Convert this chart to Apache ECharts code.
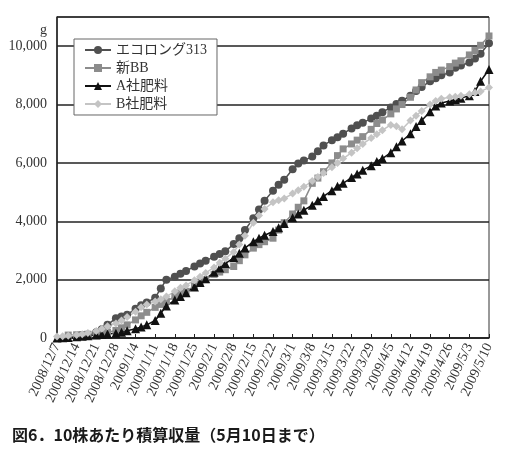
<!DOCTYPE html>
<html>
<head>
<meta charset="utf-8">
<script src="https://cdn.jsdelivr.net/npm/echarts@6/dist/echarts.min.js"></script>
<style>
  html, body { margin: 0; padding: 0; background: #fff; }
  #chart { width: 505px; height: 449px; }
</style>
</head>
<body>
<div id="chart"></div>
<script>
// week tick labels (every 7 days from 2008/12/7)
var tickLabels = ['2008/12/7', '2008/12/14', '2008/12/21', '2008/12/28', '2009/1/4', '2009/1/11',
  '2009/1/18', '2009/1/25', '2009/2/1', '2009/2/8', '2009/2/15', '2009/2/22', '2009/3/1',
  '2009/3/8', '2009/3/15', '2009/3/22', '2009/3/29', '2009/4/5', '2009/4/12', '2009/4/19',
  '2009/4/26', '2009/5/3', '2009/5/10']

// harvest days, counted from 2008/12/7
var harvestDays = [0, 2, 4, 7, 9, 11, 14, 16, 18, 21, 23, 25, 28, 30, 32, 35, 37, 39, 42, 44, 46,
  49, 51, 53, 56, 58, 60, 63, 65, 67, 70, 72, 74, 77, 79, 81, 84, 86, 88, 91, 93, 95, 98, 100, 102,
  105, 107, 109, 112, 114, 116, 119, 121, 123, 126, 128, 130, 133, 135, 137, 140, 142, 144, 147,
  149, 151, 154]

var seriesNames = ['エコロング313', '新BB', 'A社肥料', 'B社肥料']

var ecolong = [null, null, null, null, null, 80, 200, 300, 450, 680, 740, 800, 1000, 1120, 1220,
  1380, 1700, 2000, 2100, 2200, 2300, 2450, 2550, 2650, 2780, 2880, 2970, 3220, 3420, 3700, 4100,
  4400, 4700, 5050, 5250, 5420, 5780, 5980, 6080, 6220, 6400, 6600, 6780, 6880, 7000, 7180, 7290,
  7380, 7520, 7620, 7740, 7900, 8020, 8130, 8300, 8460, 8600, 8800, 8900, 9000, 9100, 9260, 9340,
  9440, 9580, 9740, 10100]

var shinBB = [null, null, 100, 110, 120, 130, 150, 170, 200, 260, 350, 450, 620, 760, 880, 1050,
  1150, 1260, 1420, 1520, 1600, 1780, 1880, 2000, 2180, 2260, 2340, 2450, 2650, 2850, 3080, 3200,
  3300, 3420, 3700, 3950, 4250, 4480, 4700, 5300, 5480, 5700, 6000, 6250, 6480, 6650, 6780, 6900,
  7150, 7350, 7470, 7680, 7850, 8000, 8250, 8500, 8750, 8950, 9100, 9180, 9300, 9420, 9500, 9700,
  9850, 10030, 10350]

var aSha = [0, 10, 20, 40, 60, 80, 100, 120, 140, 160, 200, 250, 320, 380, 450, 600, 850, 1100,
  1300, 1420, 1550, 1750, 1900, 2030, 2250, 2400, 2550, 2750, 2900, 3080, 3300, 3420, 3520, 3650,
  3780, 3920, 4120, 4250, 4380, 4550, 4700, 4850, 5050, 5200, 5300, 5500, 5620, 5750, 5900, 6050,
  6150, 6350, 6550, 6750, 7000, 7250, 7450, 7750, 7950, 8050, 8120, 8170, 8220, 8300, 8450, 8800,
  9200]

var bSha = [50, 60, 80, 100, 130, 170, 240, 320, 400, 500, 600, 720, 900, 1050, 1150, 1250, 1330,
  1420, 1600, 1720, 1800, 1980, 2100, 2230, 2420, 2580, 2720, 2950, 3200, 3500, 3950, 4200, 4420,
  4650, 4720, 4780, 4950, 5060, 5180, 5380, 5520, 5650, 5850, 6000, 6150, 6350, 6500, 6650, 6850,
  6980, 7120, 7300, 7260, 7150, 7450, 7620, 7780, 8000, 8120, 8200, 8250, 8270, 8300, 8350, 8400,
  8450, 8580]

var chart = echarts.init(document.getElementById('chart'))

function pairs(vals) {
  return harvestDays.map(function (d, i) { return [d, vals[i]] })
}

function makeSeries(name, vals, color, symbol, size) {
  return {
    name: name,
    type: 'line',
    data: pairs(vals),
    symbol: symbol,
    symbolSize: size,
    itemStyle: { color: color },
    lineStyle: { color: color, width: 1.5 },
    animation: false
  }
}

var serif = '"Liberation Serif", "Noto Sans CJK JP", serif'

chart.setOption({
  animation: false,
  title: {
    text: '図6．10株あたり積算収量（5月10日まで）',
    left: 7,
    top: 422,
    textStyle: { fontFamily: '"Noto Sans CJK JP"', fontSize: 16, fontWeight: 'bold', color: '#1a1a1a' }
  },
  legend: {
    orient: 'vertical',
    left: 74,
    top: 39,
    padding: [4, 10, 4, 10],
    itemGap: 4,
    itemWidth: 26,
    itemHeight: 10,
    backgroundColor: '#fff',
    borderColor: '#666',
    borderWidth: 1,
    data: seriesNames,
    textStyle: { fontFamily: serif, fontSize: 14, color: '#333' }
  },
  graphic: [{
    type: 'text',
    left: 40,
    top: 23,
    style: { text: 'g', font: '14px "Liberation Serif"', fill: '#333' }
  }],
  grid: {
    left: 57,
    right: 16,
    top: 17,
    bottom: 111,
    show: true,
    borderColor: '#333',
    borderWidth: 1
  },
  xAxis: {
    type: 'value',
    min: 0,
    max: 154,
    interval: 7,
    axisLine: { lineStyle: { color: '#222', width: 1.5 } },
    axisTick: { inside: true, length: 4, lineStyle: { color: '#222' } },
    splitLine: { show: false },
    axisLabel: {
      rotate: 65,
      margin: 6,
      fontFamily: serif,
      fontSize: 14,
      color: '#333',
      formatter: function (v) { return tickLabels[Math.round(v / 7)] || '' }
    }
  },
  yAxis: {
    type: 'value',
    min: 0,
    max: 11000,
    interval: 2000,
    axisLine: { show: true, lineStyle: { color: '#222', width: 1.5 } },
    axisTick: { show: false },
    splitLine: { lineStyle: { color: '#222', width: 1.5 } },
    axisLabel: {
      margin: 10,
      fontFamily: serif,
      fontSize: 14,
      color: '#333',
      showMaxLabel: false,
      formatter: function (v) { return v > 10000 ? '' : v.toLocaleString('en-US') }
    }
  },
  series: [
    makeSeries(seriesNames[0], ecolong, '#505050', 'circle', 8),
    makeSeries(seriesNames[1], shinBB, '#8c8c8c', 'rect', 7),
    makeSeries(seriesNames[2], aSha, '#111', 'triangle', 9),
    makeSeries(seriesNames[3], bSha, '#c4c4c4', 'diamond', 8)
  ]
})
</script>
</body>
</html>
